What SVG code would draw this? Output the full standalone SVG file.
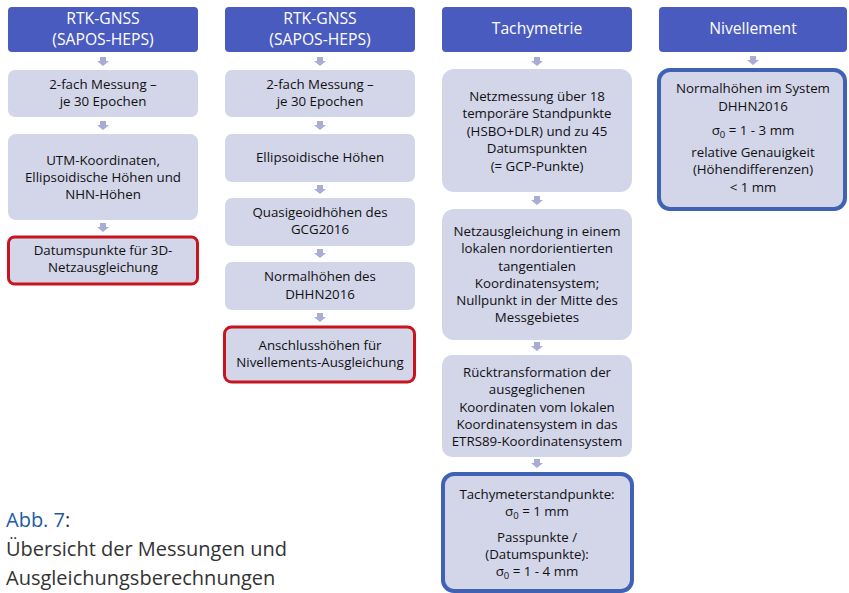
<svg xmlns="http://www.w3.org/2000/svg" width="849" height="593" viewBox="0 0 849 593">
<defs>
<style>
.hd{fill:#4a5bbf;}
.bx{fill:#d3d5e9;}
.red{fill:#d3d5e9;stroke:#c8141e;stroke-width:3;}
.blu{fill:#d3d5e9;stroke:#3f62b5;stroke-width:4;}
.ht{font-family:"Open Sans",sans-serif;font-size:15.7px;fill:#ffffff;text-anchor:middle;}
.t{font-family:"Open Sans",sans-serif;font-size:13.3px;fill:#111;text-anchor:middle;}
.ar{fill:#a9acd4;}
.cap{font-family:"Open Sans",sans-serif;font-size:20px;fill:#333;}
</style>
<path id="arw" d="M-3,0 h6 v4 h3 l-6,5 l-6,-5 h3 z"/>
</defs>
<rect width="849" height="593" fill="#ffffff"/>
<g id="connectors">
<use href="#arw" class="ar" x="103" y="57"/>
<use href="#arw" class="ar" x="103" y="121"/>
<use href="#arw" class="ar" x="103" y="223"/>
<use href="#arw" class="ar" x="320" y="57"/>
<use href="#arw" class="ar" x="320" y="121"/>
<use href="#arw" class="ar" x="320" y="185"/>
<use href="#arw" class="ar" x="320" y="249"/>
<use href="#arw" class="ar" x="320" y="313"/>
<use href="#arw" class="ar" x="537" y="57"/>
<use href="#arw" class="ar" x="537" y="196"/>
<use href="#arw" class="ar" x="537" y="342"/>
<use href="#arw" class="ar" x="537" y="459"/>
<use href="#arw" class="ar" x="753" y="56"/>
</g>
<g id="c1h"><rect class="hd" x="8" y="7" width="190" height="45" rx="4"/><text class="ht" x="103" y="24">RTK-GNSS</text><text class="ht" x="103" y="45">(SAPOS-HEPS)</text></g>
<g id="c1b1"><rect class="bx" x="8" y="70" width="190" height="47" rx="7"/><text class="t" x="103" y="89">2-fach Messung –</text><text class="t" x="103" y="106">je 30 Epochen</text></g>
<g id="c1b2"><rect class="bx" x="8" y="134" width="190" height="86" rx="8"/><text class="t" x="103" y="165">UTM-Koordinaten,</text><text class="t" x="103" y="182">Ellipsoidische Höhen und</text><text class="t" x="103" y="199">NHN-Höhen</text></g>
<g id="c1b3"><rect class="red" x="8.5" y="237" width="189" height="47" rx="6"/><text class="t" x="103" y="255">Datumspunkte für 3D-</text><text class="t" x="103" y="272">Netzausgleichung</text></g>
<g id="c2h"><rect class="hd" x="225" y="7" width="190" height="45" rx="4"/><text class="ht" x="320" y="24">RTK-GNSS</text><text class="ht" x="320" y="45">(SAPOS-HEPS)</text></g>
<g id="c2b1"><rect class="bx" x="225" y="70" width="190" height="47" rx="7"/><text class="t" x="320" y="89">2-fach Messung –</text><text class="t" x="320" y="106">je 30 Epochen</text></g>
<g id="c2b2"><rect class="bx" x="225" y="134" width="190" height="48" rx="7"/><text class="t" x="320" y="162">Ellipsoidische Höhen</text></g>
<g id="c2b3"><rect class="bx" x="225" y="198" width="190" height="48" rx="7"/><text class="t" x="320" y="217">Quasigeoidhöhen des</text><text class="t" x="320" y="234">GCG2016</text></g>
<g id="c2b4"><rect class="bx" x="225" y="262" width="190" height="48" rx="7"/><text class="t" x="320" y="281">Normalhöhen des</text><text class="t" x="320" y="299">DHHN2016</text></g>
<g id="c2b5"><rect class="red" x="224.5" y="327" width="190" height="55" rx="7"/><text class="t" x="320" y="350">Anschlusshöhen für</text><text class="t" x="320" y="367">Nivellements-Ausgleichung</text></g>
<g id="c3h"><rect class="hd" x="442" y="7" width="190" height="45" rx="4"/><text class="ht" x="537" y="34">Tachymetrie</text></g>
<g id="c3b1"><rect class="bx" x="442" y="69" width="190" height="123" rx="12"/><text class="t" x="537" y="101">Netzmessung über 18</text><text class="t" x="537" y="118">temporäre Standpunkte</text><text class="t" x="537" y="136">(HSBO+DLR) und zu 45</text><text class="t" x="537" y="153">Datumspunkten</text><text class="t" x="537" y="171">(= GCP-Punkte)</text></g>
<g id="c3b2"><rect class="bx" x="442" y="209" width="190" height="131" rx="12"/><text class="t" x="537" y="236">Netzausgleichung in einem</text><text class="t" x="537" y="253">lokalen nordorientierten</text><text class="t" x="537" y="271">tangentialen</text><text class="t" x="537" y="288">Koordinatensystem;</text><text class="t" x="537" y="305">Nullpunkt in der Mitte des</text><text class="t" x="537" y="322">Messgebietes</text></g>
<g id="c3b3"><rect class="bx" x="442" y="355" width="190" height="102" rx="10"/><text class="t" x="537" y="377">Rücktransformation der</text><text class="t" x="537" y="394">ausgeglichenen</text><text class="t" x="537" y="412">Koordinaten vom lokalen</text><text class="t" x="537" y="429">Koordinatensystem in das</text><text class="t" x="537" y="446">ETRS89-Koordinatensystem</text></g>
<g id="c3b4"><rect class="blu" x="443" y="474" width="189" height="117" rx="11"/><text class="t" x="537" y="499">Tachymeterstandpunkte:</text><text class="t" x="537" y="516">σ<tspan font-size="9.5" dy="3">0</tspan><tspan dy="-3"> = 1 mm</tspan></text><text class="t" x="537" y="542">Passpunkte /</text><text class="t" x="537" y="559">(Datumspunkte):</text><text class="t" x="537" y="576">σ<tspan font-size="9.5" dy="3">0</tspan><tspan dy="-3"> = 1 - 4 mm</tspan></text></g>
<g id="c4h"><rect class="hd" x="659" y="7" width="188" height="45" rx="4"/><text class="ht" x="753" y="34">Nivellement</text></g>
<g id="c4b1"><rect class="blu" x="659" y="70" width="186" height="139" rx="11"/><text class="t" x="753" y="93">Normalhöhen im System</text><text class="t" x="753" y="111">DHHN2016</text><text class="t" x="753" y="135">σ<tspan font-size="9.5" dy="3">0</tspan><tspan dy="-3"> = 1 - 3 mm</tspan></text><text class="t" x="753" y="157">relative Genauigkeit</text><text class="t" x="753" y="174">(Höhendifferenzen)</text><text class="t" x="753" y="192">&lt; 1 mm</text></g>
<g id="caption"><text class="cap" x="6" y="527"><tspan fill="#1e5aa6">Abb. 7</tspan>:</text><text class="cap" x="6" y="556">Übersicht der Messungen und</text><text class="cap" x="6" y="585">Ausgleichungsberechnungen</text></g>
</svg>
